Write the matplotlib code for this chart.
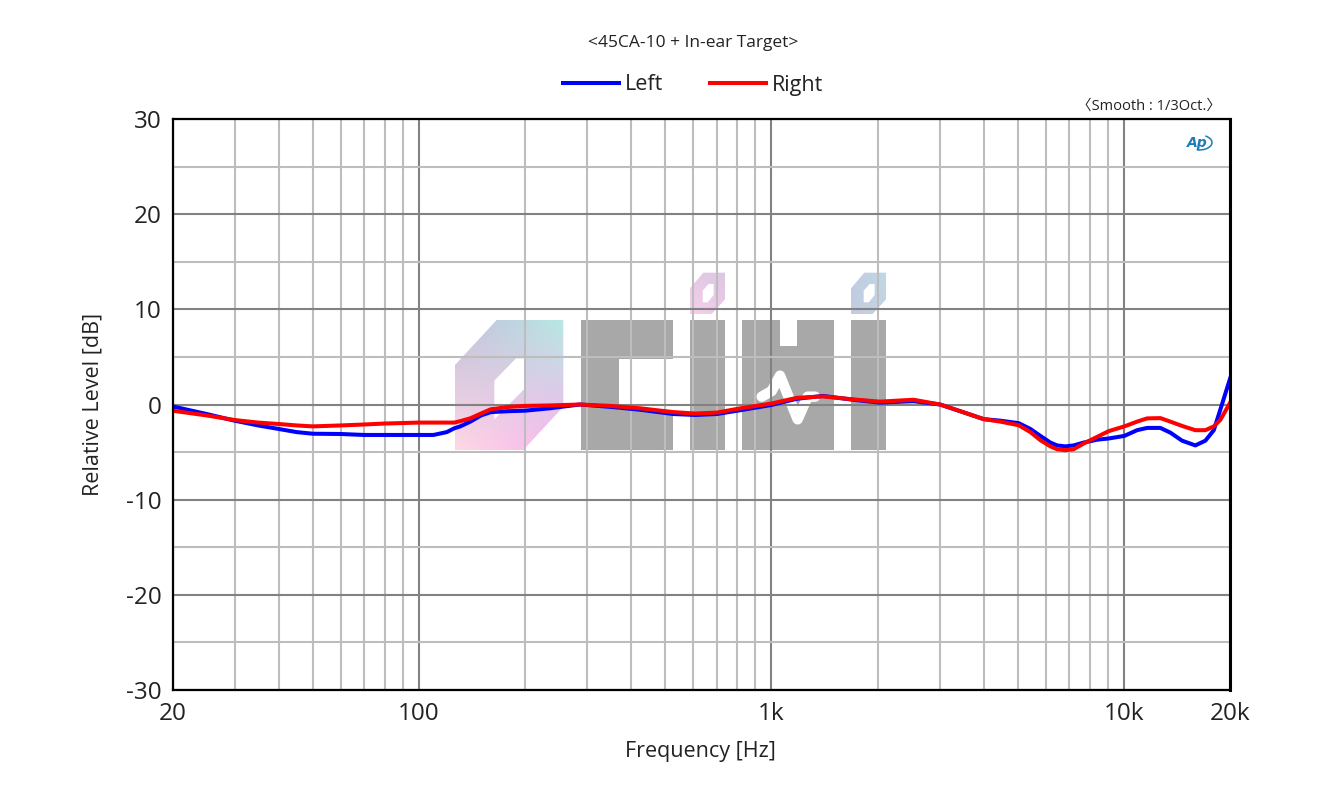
import numpy as np
import matplotlib
matplotlib.use("Agg")
import matplotlib.pyplot as plt
from matplotlib.patches import PathPatch, Polygon, Arc
from matplotlib.path import Path
from matplotlib.ticker import NullFormatter

plt.rcParams['font.family'] = ['Open Sans', 'Noto Sans CJK KR', 'DejaVu Sans']

# ---- data ----
freq_left = [20, 25, 30, 35, 40, 45, 50, 60, 70, 80, 100, 110, 120, 126, 131, 140, 150, 160, 180, 200, 235,
             286, 350, 424, 527, 608, 700, 817, 1000, 1180, 1400, 1750, 2030, 2530, 3010, 3430, 4005, 4462, 5030,
             5430, 5795, 6187, 6463, 6823, 7204, 7691, 8395, 9057, 10032, 10900, 11640, 12690, 13550, 14620,
             15950, 17030, 17990, 18790, 20000]
left_db = [-0.2, -1.0, -1.7, -2.2, -2.57, -2.9, -3.07, -3.1, -3.2, -3.2, -3.2, -3.2, -2.9, -2.5, -2.3, -1.8,
           -1.15, -0.8, -0.7, -0.65, -0.4, 0.0, -0.25, -0.55, -1.0, -1.1, -1.0, -0.6, -0.05, 0.6, 0.9, 0.45,
           0.2, 0.35, 0.0, -0.7, -1.54, -1.7, -1.96, -2.57, -3.3, -4.0, -4.3, -4.4, -4.3, -4.0, -3.7, -3.57, -3.3,
           -2.7, -2.46, -2.46, -2.96, -3.8, -4.3, -3.8, -2.7, -0.5, 2.7]
freq_right = [20, 25, 30, 35, 40, 45, 50, 60, 70, 80, 100, 110, 120, 126, 131, 140, 150, 160, 180, 200, 235,
              286, 350, 424, 527, 608, 700, 817, 1000, 1180, 1400, 1750, 2030, 2530, 3010, 3430, 4005, 4462, 5030,
              5430, 5795, 6187, 6463, 6823, 7204, 7691, 8395, 9057, 10032, 10900, 11640, 12690, 13550, 14620,
              15950, 17030, 17990, 18790, 20000]
right_db = [-0.65, -1.15, -1.63, -1.9, -2.05, -2.2, -2.3, -2.2, -2.1, -2.0, -1.9, -1.9, -1.9, -1.9, -1.75, -1.45,
            -0.95, -0.5, -0.25, -0.15, -0.1, 0.0, -0.15, -0.4, -0.8, -0.95, -0.85, -0.4, 0.1, 0.7, 0.85, 0.5,
            0.3, 0.5, 0.0, -0.7, -1.54, -1.8, -2.18, -2.9, -3.75, -4.4, -4.7, -4.8, -4.7, -4.1, -3.4, -2.8, -2.3,
            -1.8, -1.46, -1.43, -1.8, -2.25, -2.7, -2.7, -2.3, -1.6, 0.18]
x_major = [20, 100, 1000, 10000, 20000]
x_labels = ['20', '100', '1k', '10k', '20k']
x_minor = [30, 40, 50, 60, 70, 80, 90, 200, 300, 400, 500, 600, 700, 800, 900,
           2000, 3000, 4000, 5000, 6000, 7000, 8000, 9000]
y_major = [-30, -20, -10, 0, 10, 20, 30]
y_minor = [-25, -15, -5, 5, 15, 25]

W, H = 1323, 794
fig = plt.figure(figsize=(W / 100, H / 100), dpi=100, facecolor='white')

# ---- pixel-space layer for the watermark ----
bg = fig.add_axes([0, 0, 1, 1], zorder=0)
bg.set_xlim(0, W)
bg.set_ylim(H, 0)
bg.axis('off')


def zp(pts):
    """Watermark outline coordinates to figure pixels."""
    return [(440 + x / 3, 260 + y / 3) for x, y in pts]


def compound(outer, holes=()):
    verts, codes = [], []
    # holes run opposite to the outer ring
    for ring in [outer] + [list(reversed(h)) for h in holes]:
        r = zp(ring)
        verts += r + [r[0]]
        codes += [Path.MOVETO] + [Path.LINETO] * (len(r) - 1) + [Path.CLOSEPOLY]
    return Path(verts, codes)


def gradient(path, corners, extent):
    # corners: top-left, top-right, bottom-left, bottom-right RGB
    n = 64
    u, v = np.meshgrid(np.linspace(0, 1, n), np.linspace(0, 1, n))
    c = [np.array(matplotlib.colors.to_rgb(k)) for k in corners]
    img = ((1 - u) * (1 - v))[..., None] * c[0] + (u * (1 - v))[..., None] * c[1] + \
          ((1 - u) * v)[..., None] * c[2] + (u * v)[..., None] * c[3]
    im = bg.imshow(img, extent=extent, origin='upper', aspect='auto', interpolation='bilinear', zorder=1)
    patch = PathPatch(path, transform=bg.transData, fc='none', ec='none')
    bg.add_patch(patch)
    im.set_clip_path(patch)
    bg.set_xlim(0, W)
    bg.set_ylim(H, 0)


gray = '#a8a8a8'
# stylised O
o_path = compound([(45, 315), (170, 180), (370, 180), (370, 440), (250, 570), (45, 570)],
                  [[(163, 362), (228, 295), (252, 295), (252, 388), (163, 478)]])
gradient(o_path, ['#c4c0dc', '#b8e8e2', '#ffd8e4', '#f8b4f0'], (455, 564, 450, 320))
# C
bg.add_patch(Polygon(zp([(423, 180), (700, 180), (700, 297), (538, 297), (538, 450), (700, 450), (700, 570), (423, 570)]),
                     fc=gray, ec='none', zorder=1))
# I bars
for x0, x1 in [(750, 855), (1233, 1338)]:
    bg.add_patch(Polygon(zp([(x0, 180), (x1, 180), (x1, 570), (x0, 570)]), fc=gray, ec='none', zorder=1))
# block with notch
bg.add_patch(Polygon(zp([(906, 180), (1020, 180), (1020, 258), (1070, 258), (1070, 180), (1183, 180), (1183, 570), (906, 570)]),
                     fc=gray, ec='none', zorder=1))
# pulse in the block
pulse = np.array(zp([(965, 410), (995, 393), (1020, 347), (1073, 478), (1103, 410), (1125, 410)]))
bg.plot(pulse[:, 0], pulse[:, 1], color='white', lw=7.5, solid_capstyle='round', solid_joinstyle='round', zorder=2)
# dots
for dx, cols in [(0, ['#e4c8e4', '#dcc8e4', '#f8d0ec', '#ecc8e8']), (483, ['#c0cce0', '#c0d8e4', '#c4cce0', '#c4d4e4'])]:
    dot = compound([(750 + dx, 85), (790 + dx, 38), (855 + dx, 38), (855 + dx, 118), (815 + dx, 162), (750 + dx, 162)],
                   [[(788 + dx, 92), (806 + dx, 72), (821 + dx, 72), (821 + dx, 105), (803 + dx, 127), (788 + dx, 127)]])
    gradient(dot, cols, (690 + dx / 3, 725 + dx / 3, 314, 272))

# ---- chart ----
ax = fig.add_axes([172.5 / W, 1 - 690 / H, (1230 - 172.5) / W, (690 - 119) / H], zorder=1)
ax.patch.set_alpha(0)
ax.set_xscale('log')
ax.set_xlim(20, 20000)
ax.set_ylim(-30, 30)
ax.set_xticks(x_major)
ax.set_xticklabels(x_labels)
ax.set_xticks(x_minor, minor=True)
ax.xaxis.set_minor_formatter(NullFormatter())
ax.set_yticks(y_major)
ax.set_yticks(y_minor, minor=True)
ax.set_yticklabels([str(v) for v in y_major])
ax.tick_params(which='both', length=0)
ax.tick_params(axis='y', which='major', labelsize=17.5, labelcolor='#222222', pad=8)
ax.tick_params(axis='x', which='major', labelsize=17.5, labelcolor='#222222', pad=9)
ax.grid(True, which='major', color='#828282', lw=1.5, zorder=1)
ax.grid(True, which='minor', color='#bdbdbd', lw=1.5, zorder=1)
ax.set_axisbelow(True)
for s in ax.spines.values():
    s.set_linewidth(1.6)
    s.set_color('black')
    s.set_zorder(5)
ax.spines['right'].set_linewidth(2.2)

l1, = ax.plot(freq_left, left_db, color='#0000ff', lw=2.9, label='Left', zorder=3)
l2, = ax.plot(freq_right, right_db, color='#ff0000', lw=2.9, label='Right', zorder=4)

fig.text(700.5 / W, 1 - 752 / H, 'Frequency [Hz]', ha='center', va='center', fontsize=15.5, color='#222222')
fig.text(93 / W, 1 - 404.5 / H, 'Relative Level [dB]', rotation=90, ha='center', va='center', fontsize=15.5, color='#222222')

fig.text(693.5 / W, 1 - 43 / H, '<45CA-10 + In-ear Target>', ha='center', va='center', fontsize=12.5, color='#222222')
fig.text(1149 / W, 1 - 106 / H, '〈Smooth : 1/3Oct.〉', ha='center', va='center', fontsize=10.5, color='#222222')

leg = fig.legend(handles=[l1, l2], loc='center', bbox_to_anchor=(693 / W, 1 - 85 / H), ncol=2, frameon=False,
                 fontsize=15.5, handlelength=2.6, handletextpad=0.25, columnspacing=2.2, labelcolor='#222222')

# small analyser logo
fig.text(1197 / W, 1 - 142.5 / H, 'Ap', ha='center', va='center', fontsize=10, style='italic', weight='bold',
         color='#1b7fb5', family='DejaVu Sans')
fig.add_artist(Arc((1199 / W, 1 - 142.5 / H), 26 / W, 15 / H, theta1=-100, theta2=60, color='#1b7fb5', lw=1.1,
                   transform=fig.transFigure))

fig.savefig('out.png', dpi=100, facecolor='white')
